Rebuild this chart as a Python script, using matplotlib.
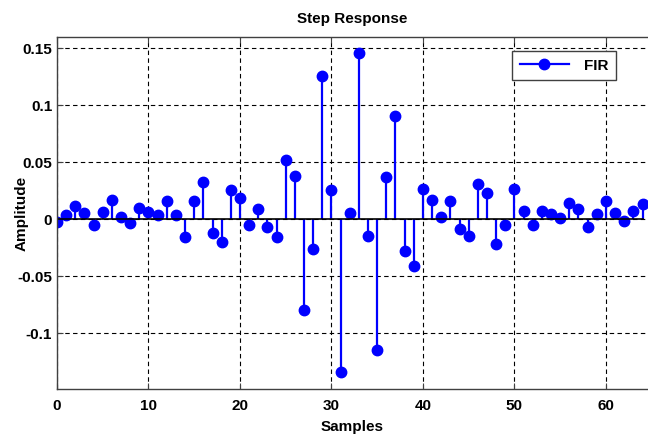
import matplotlib
matplotlib.use("Agg")
import matplotlib.pyplot as plt
from matplotlib.lines import Line2D
from matplotlib.legend_handler import HandlerLine2D

samples = list(range(65))
amplitude = [
    -0.002, 0.0038, 0.012, 0.0056, -0.005, 0.0064, 0.017, 0.0023, -0.003, 0.0096,
    0.0067, 0.0038, 0.016, 0.0035, -0.0158, 0.016, 0.033, -0.0123, -0.0199, 0.0257,
    0.019, -0.005, 0.0088, -0.0064, -0.0158, 0.052, 0.038, -0.080, -0.026, 0.1257,
    0.0257, -0.1345, 0.0053, 0.1456, -0.0146, -0.1146, 0.0374, 0.0909, -0.0275, -0.041,
    0.0266, 0.0172, 0.0023, 0.016, -0.0085, -0.0146, 0.0307, 0.0234, -0.0219, -0.005,
    0.0266, 0.0073, -0.005, 0.0073, 0.0047, 0.0015, 0.014, 0.009, -0.0064, 0.0047,
    0.016, 0.0058, -0.0015, 0.0073, 0.013,
]
xticks = [0, 10, 20, 30, 40, 50, 60]
yticks = [-0.1, -0.05, 0, 0.05, 0.1, 0.15]
ytick_labels = ["-0.1", "-0.05", "0", "0.05", "0.1", "0.15"]

plt.rcParams['font.family'] = ['Liberation Sans', 'DejaVu Sans']
plt.rcParams['font.weight'] = 'bold'

BLUE = '#0000ff'


class StemLegendHandler(HandlerLine2D):
    def get_xdata(self, legend, xdescent, ydescent, width, height, fontsize):
        xdata, _ = super().get_xdata(legend, xdescent, ydescent, width, height, fontsize)
        return xdata, [xdata[-1]]


fig = plt.figure(figsize=(6.48, 4.37), dpi=100)
ax = fig.add_axes([57/648, 48/437, 591/648, 352/437])

markerline, stemlines, baseline = ax.stem(samples, amplitude, linefmt='-', markerfmt='o', basefmt='k-')
plt.setp(stemlines, color=BLUE, linewidth=1.6)
plt.setp(markerline, color=BLUE, markersize=7.5, markeredgecolor=BLUE)
plt.setp(baseline, color='black', linewidth=1.2)

ax.set_xlim(0, 64.6)
ax.set_ylim(-0.149, 0.16)
ax.set_xticks(xticks)
ax.set_yticks(yticks)
ax.set_yticklabels(ytick_labels)
ax.tick_params(direction='in', length=4, labelsize=11, colors='#404040', labelcolor='black', top=True, right=False)
ax.tick_params(axis='x', pad=7)
for lbl in ax.get_xticklabels() + ax.get_yticklabels():
    lbl.set_fontweight('bold')
ax.grid(True, color='black', linestyle=(0, (4, 3)), linewidth=0.8)
for s in ['left', 'bottom', 'top']:
    ax.spines[s].set_color('#404040')
    ax.spines[s].set_linewidth(1.0)
ax.spines['right'].set_visible(False)

ax.set_title('Step Response', fontsize=11, fontweight='bold', pad=10)
ax.set_xlabel('Samples', fontsize=11, fontweight='bold', labelpad=5)
ax.set_ylabel('Amplitude', fontsize=11, fontweight='bold', labelpad=-8)

handle = Line2D([0, 1], [0, 0], color=BLUE, linewidth=1.6, marker='o', markersize=7.5)
leg = ax.legend([handle], ['FIR'], loc='upper right',
                handler_map={Line2D: StemLegendHandler()},
                bbox_to_anchor=((616 - 57) / 591, 1 - (51 - 37) / 352), bbox_transform=ax.transAxes,
                borderaxespad=0.0,
                fancybox=False, framealpha=1, edgecolor='#404040', prop={'weight': 'bold', 'size': 11},
                handlelength=3.2, borderpad=0.5, handletextpad=1.0)
leg.get_frame().set_linewidth(1.0)

fig.savefig('out.png', dpi=100)
